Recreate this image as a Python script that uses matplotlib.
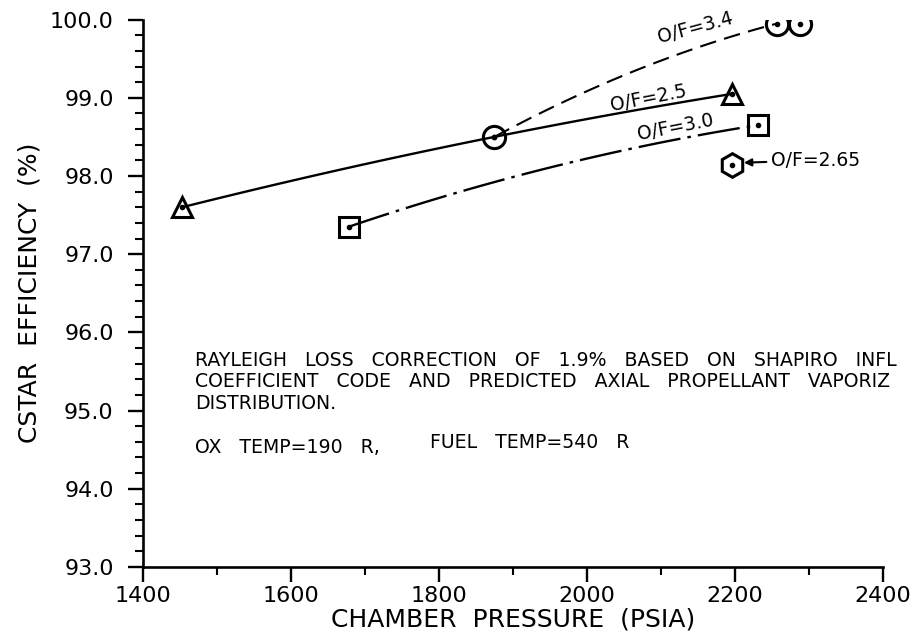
import numpy as np
import matplotlib
matplotlib.use("Agg")
import matplotlib.pyplot as plt

# measured points
of25_p = [1453, 1875, 2196]
of25_e = [97.60, 98.50, 99.05]

of30_p = [1678, 2231]
of30_e = [97.35, 98.65]
of30_mid = (1955, 98.12)   # bow of the faired curve

of34_p = [1875, 2257, 2288]
of34_e = [98.50, 99.95, 99.95]
of34_mid = (2066, 99.35)

of265_p = [2196]
of265_e = [98.14]

xticks = [1400, 1600, 1800, 2000, 2200, 2400]
yticks = [93.0, 94.0, 95.0, 96.0, 97.0, 98.0, 99.0, 100.0]

note = ("RAYLEIGH   LOSS   CORRECTION   OF   1.9%   BASED   ON   SHAPIRO   INFL\n"
        "COEFFICIENT   CODE   AND   PREDICTED   AXIAL   PROPELLANT   VAPORIZ\n"
        "DISTRIBUTION.")

plt.rcParams['font.family'] = ['DejaVu Sans']
fig = plt.figure(figsize=(9.16, 6.32), dpi=100)
ax = fig.add_axes([0.156, 0.103, 0.808, 0.866])


def faired(xs, ys, n=100):
    # quadratic fairing through three points
    c = np.polyfit(xs, ys, 2)
    xx = np.linspace(xs[0], xs[-1], n)
    return xx, np.polyval(c, xx)


lw = 1.7
xx, yy = faired(of25_p, of25_e)
ax.plot(xx, yy, color='black', lw=lw)

xx, yy = faired([of30_p[0], of30_mid[0], of30_p[1]],
                [of30_e[0], of30_mid[1], of30_e[1]])
ax.plot(xx, yy, color='black', lw=lw, linestyle=(0, (18, 3, 1.5, 3)))

xx, yy = faired([of34_p[0], of34_mid[0], of34_p[1]],
                [of34_e[0], of34_mid[1], of34_e[1]])
ax.plot(xx, yy, color='black', lw=1.5, linestyle=(0, (8, 4)))

mk = dict(color='black', markerfacecolor='none', markeredgewidth=2.2,
          linestyle='none', zorder=4)
ax.plot([of25_p[0], of25_p[2]], [of25_e[0], of25_e[2]], marker='^', markersize=15, **mk)
ax.plot(of30_p, of30_e, marker='s', markersize=15, **mk)
ax.plot(of34_p, of34_e, marker='o', markersize=16, **mk)
ax.plot(of265_p, of265_e, marker='h', markersize=17, **mk)

# centre dots
allx = of25_p + of30_p + of34_p + of265_p
ally = of25_e + of30_e + of34_e + of265_e
ax.plot(allx, ally, 'k.', markersize=6, zorder=5)

lab = 13.5
ax.text(2147, 99.9, "O/F=3.4", fontsize=lab, rotation=15, ha='center', va='center')
ax.text(2083, 99.0, "O/F=2.5", fontsize=lab, rotation=11, ha='center', va='center')
ax.text(2120, 98.62, "O/F=3.0", fontsize=lab, rotation=11, ha='center', va='center')
ax.annotate("O/F=2.65", xy=(2212, 98.17), xytext=(2248, 98.2), fontsize=lab,
            va='center', ha='left',
            arrowprops=dict(arrowstyle='-|>', color='black', lw=1.5,
                            mutation_scale=11, shrinkA=1, shrinkB=0))

fs = 13.6
ax.text(0.07, 0.338, note, transform=ax.transAxes, fontsize=fs,
        va='center', ha='left', linespacing=1.15)
ax.text(0.07, 0.218, "OX   TEMP=190   R,", transform=ax.transAxes, fontsize=fs,
        va='center', ha='left')
ax.text(0.388, 0.228, "FUEL   TEMP=540   R", transform=ax.transAxes, fontsize=fs,
        va='center', ha='left')

ax.set_xlim(1400, 2400)
ax.set_ylim(93.0, 100.0)
ax.set_xticks(xticks)
ax.set_xticklabels([str(t) for t in xticks], fontsize=16)
ax.set_xticks(np.arange(1400, 2401, 100), minor=True)
ax.set_yticks(yticks)
ax.set_yticklabels(["%.1f" % t for t in yticks], fontsize=16)
ax.set_yticks(np.arange(93.0, 100.01, 0.2), minor=True)
ax.tick_params(which='major', length=11, width=1.7, direction='out')
ax.tick_params(which='minor', length=6, width=1.5, direction='out')
ax.tick_params(axis='x', pad=3)
ax.tick_params(axis='y', pad=10)

for s in ['top', 'right']:
    ax.spines[s].set_visible(False)
for s in ['left', 'bottom']:
    ax.spines[s].set_linewidth(1.9)

ax.set_xlabel("CHAMBER  PRESSURE  (PSIA)", fontsize=18, labelpad=1)
ax.set_ylabel("CSTAR  EFFICIENCY  (%)", fontsize=18, labelpad=6)

fig.savefig("out.png", dpi=100)
